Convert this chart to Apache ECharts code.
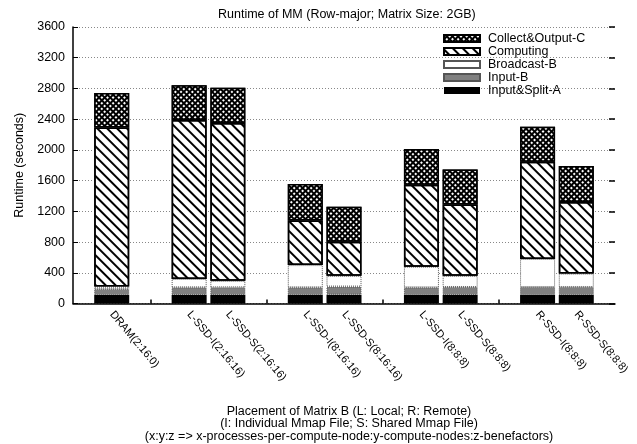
<!DOCTYPE html>
<html>
<head>
<meta charset="utf-8">
<script src="https://cdn.jsdelivr.net/npm/echarts@6/dist/echarts.min.js"></script>
<style>
  html, body { margin: 0; padding: 0; background: #fff; }
  #main { width: 637px; height: 444px; }
</style>
</head>
<body>
<div id="main"></div>
<script>
// bars, grouped the way the plot spaces them
const categories = ['DRAM(2:16:0)',
  'L-SSD-I(2:16:16)', 'L-SSD-S(2:16:16)',
  'L-SSD-I(8:16:16)', 'L-SSD-S(8:16:16)',
  'L-SSD-I(8:8:8)', 'L-SSD-S(8:8:8)',
  'R-SSD-I(8:8:8)', 'R-SSD-S(8:8:8)'];
const groupSizes = [1, 2, 2, 2, 2];

// runtime pieces (seconds), bottom to top
const inputSplitA = [110, 110, 110, 110, 115, 110, 110, 110, 110];
const inputB      = [80, 100, 100, 100, 105, 100, 105, 105, 105];
const broadcastB  = [30, 110, 85, 290, 140, 270, 145, 365, 175];
const computing   = [2070, 2070, 2055, 580, 445, 1065, 930, 1265, 930];
const collectC    = [450, 450, 460, 475, 455, 465, 455, 455, 470];

const yTicks = [0, 400, 800, 1200, 1600, 2000, 2400, 2800, 3200, 3600];

// build the axis with an empty slot before, between and after the groups
let axisCats = [''];
let barSlot = [];
let gapSlots = [];
let k = 0;
groupSizes.forEach((n, g) => {
  if (g > 0) { gapSlots.push(axisCats.length); axisCats.push(''); }
  for (let i = 0; i < n; i++) {
    barSlot.push(axisCats.length);
    axisCats.push(categories[k++]);
  }
});
axisCats.push('');

function toSlots(arr) {
  let out = axisCats.map(() => '-');
  arr.forEach((v, i) => { out[barSlot[i]] = v; });
  return out;
}

const font = 'Liberation Sans, Arial, Helvetica, sans-serif';
const fs = 12.5;
let myChart = echarts.init(document.getElementById('main'), null, { renderer: 'canvas' });

function bar(name, data, itemStyle) {
  return {
    name: name,
    type: 'bar',
    stack: 'total',
    barWidth: 35,
    data: toSlots(data),
    itemStyle: itemStyle,
    emphasis: { disabled: true }
  };
}

let option = {
  animation: false,
  textStyle: { fontFamily: font },
  title: [
    {
      text: 'Runtime of MM (Row-major; Matrix Size: 2GB)',
      left: 213, top: 3,
      textStyle: { fontSize: fs, fontWeight: 'normal', color: '#000', fontFamily: font }
    },
    {
      text: 'Placement of Matrix B (L: Local; R: Remote)\n(I: Individual Mmap File; S: Shared Mmap File)\n(x:y:z => x-processes-per-compute-node:y-compute-nodes:z-benefactors)',
      left: 344, top: 400, textAlign: 'center',
      textStyle: { fontSize: fs, fontWeight: 'normal', color: '#000', fontFamily: font, lineHeight: 12.5, align: 'center' }
    }
  ],
  legend: {
    orient: 'vertical',
    left: 443, top: 32, padding: 0,
    icon: 'rect',
    itemWidth: 36, itemHeight: 7, itemGap: 0,
    data: ['Collect&Output-C', 'Computing', 'Broadcast-B', 'Input-B', 'Input&Split-A'],
    textStyle: { fontSize: fs, color: '#000', fontFamily: font, lineHeight: 13, padding: [0, 0, 0, 3] }
  },
  grid: { left: 73, right: 22, top: 27, bottom: 140.5 },
  xAxis: {
    type: 'category',
    data: axisCats,
    boundaryGap: false,
    axisLine: { lineStyle: { color: '#000', width: 1.5 } },
    axisTick: {
      inside: true, length: 4,
      interval: (i) => gapSlots.indexOf(i) >= 0,
      lineStyle: { color: '#000', width: 1.5 }
    },
    axisLabel: {
      interval: 0, rotate: -50, margin: 9,
      fontSize: 11, color: '#000', fontFamily: font
    },
    splitLine: { show: false }
  },
  yAxis: [
    {
      type: 'value',
      min: yTicks[0], max: yTicks[yTicks.length - 1], interval: yTicks[1] - yTicks[0],
      name: 'Runtime (seconds)',
      nameLocation: 'middle', nameGap: 43,
      nameTextStyle: { fontSize: fs, color: '#000', fontFamily: font },
      axisLine: { show: true, lineStyle: { color: '#000', width: 1.5 } },
      axisTick: { show: true, inside: true, length: 5, lineStyle: { color: '#000', width: 1 } },
      axisLabel: { margin: 8, fontSize: fs, color: '#000', fontFamily: font, formatter: (v) => String(v) },
      splitLine: { show: true, lineStyle: { color: '#888', width: 1, type: [1, 2] } }
    },
    {
      type: 'value',
      position: 'right',
      min: yTicks[0], max: yTicks[yTicks.length - 1], interval: yTicks[1] - yTicks[0],
      axisLine: { show: false },
      axisTick: { show: true, inside: true, length: 6, lineStyle: { color: '#000', width: 1.5 } },
      axisLabel: { show: false },
      splitLine: { show: false }
    }
  ],
  series: [
    bar('Input&Split-A', inputSplitA, { color: '#000', borderColor: '#000', borderWidth: 0 }),
    bar('Input-B', inputB, { color: '#808080', borderColor: '#555', borderWidth: 1, borderType: [1, 1] }),
    bar('Broadcast-B', broadcastB, { color: '#fff', borderColor: '#555', borderWidth: 1, borderType: [1, 1] }),
    bar('Computing', computing, {
      color: '#fff', borderColor: '#000', borderWidth: 1.5,
      decal: { symbol: 'rect', color: '#000', dashArrayX: [1, 0], dashArrayY: [1.5, 4.5], rotation: Math.PI / 4 }
    }),
    bar('Collect&Output-C', collectC, {
      color: '#000', borderColor: '#000', borderWidth: 1.5,
      decal: { symbol: 'rect', color: '#fff', dashArrayX: [1.5, 1.5], dashArrayY: [1.5, 1.5], rotation: Math.PI / 4 }
    })
  ]
};

myChart.setOption(option);
</script>
</body>
</html>
